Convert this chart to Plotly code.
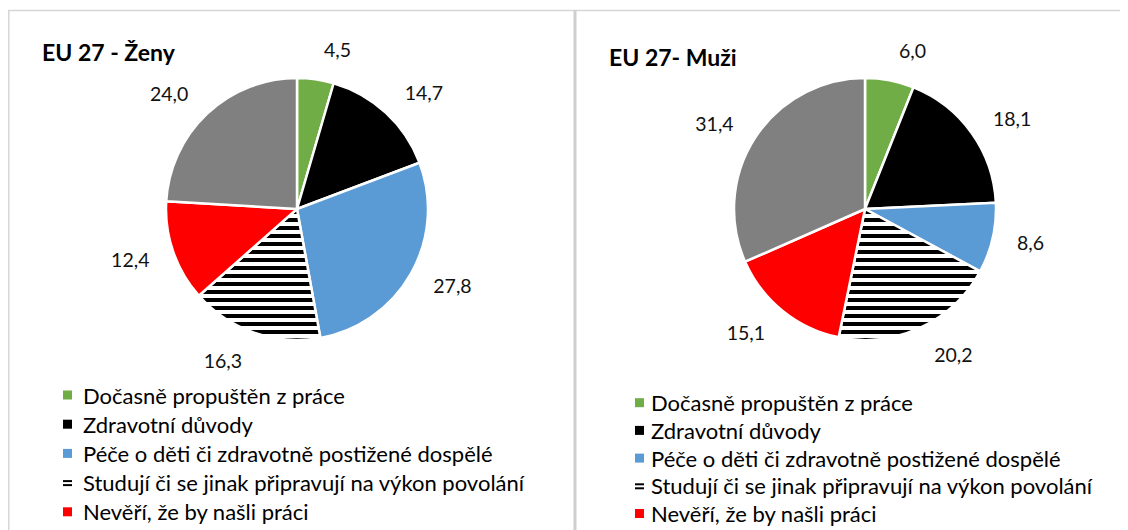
import plotly.graph_objects as go

# ---------------- data ----------------
categories = [
    "Dočasně propuštěn z práce",
    "Zdravotní důvody",
    "Péče o děti či zdravotně postižené dospělé",
    "Studují či se jinak připravují na výkon povolání",
    "Nevěří, že by našli práci",
    "Jiné důvody",
]
zeny_values = [4.5, 14.7, 27.8, 16.3, 12.4, 24.0]
muzi_values = [6.0, 18.1, 8.6, 20.2, 15.1, 31.4]
titles = ["EU 27 - Ženy", "EU 27- Muži"]
legend_visible_items = 5     # the picture is cut below the fifth legend row

# ---------------- styles ----------------
OFF = 8                      # page body margin
W, H = 1128 - OFF, 530 - OFF
slice_colors = ["#70AD47", "#000000", "#5B9BD5", "#FFFFFF", "#FF0000", "#808080"]
patterns = ["", "", "", "-", "", ""]
FONT = "Lato"


def px(x):
    return (x - OFF) / W


def py(y):
    return (H - (y - OFF)) / H


def domain(cx, cy, r):
    return dict(x=[px(cx - r), px(cx + r)], y=[py(cy + r), py(cy - r)])


fig = go.Figure()

panels = [
    dict(values=zeny_values, cx=297, cy=209, r=131),
    dict(values=muzi_values, cx=865, cy=209, r=131),
]

for p in panels:
    fig.add_trace(go.Pie(
        labels=categories, values=p["values"], sort=False, direction="clockwise",
        rotation=0, domain=domain(p["cx"], p["cy"], p["r"]),
        marker=dict(colors=slice_colors, line=dict(color="white", width=2.5),
                    pattern=dict(shape=patterns, fgcolor="black", bgcolor="white",
                                 size=8, solidity=0.5)),
        textinfo="none", showlegend=False, hoverinfo="label+value",
    ))
    # transparent twin pie, only to place the value labels a bit further out
    fig.add_trace(go.Pie(
        labels=categories, values=p["values"], sort=False, direction="clockwise",
        rotation=0, domain=domain(p["cx"], p["cy"], p["r"] + 19),
        marker=dict(colors=["rgba(0,0,0,0)"] * len(categories), line=dict(width=0)),
        texttemplate="%{value:.1f}", textposition="outside",
        textfont=dict(family=FONT, size=19.5, color="#111111"),
        showlegend=False, hoverinfo="skip",
    ))

annotations = []
shapes = []

# titles
annotations.append(dict(text="<b>" + titles[0] + "</b>", x=px(40), y=py(52), xref="paper",
                        yref="paper", xanchor="left", yanchor="middle", showarrow=False,
                        font=dict(family=FONT, size=23, color="#000000")))
annotations.append(dict(text="<b>" + titles[1] + "</b>", x=px(607), y=py(57), xref="paper",
                        yref="paper", xanchor="left", yanchor="middle", showarrow=False,
                        font=dict(family=FONT, size=23, color="#000000")))

# manual legends
legends = [
    dict(mx=63, tx=81, y0=395, dy=29.2),
    dict(mx=635, tx=649, y0=402.7, dy=27.7),
]
for lg in legends:
    for i, cat in enumerate(categories[:legend_visible_items]):
        yc = lg["y0"] + i * lg["dy"]
        annotations.append(dict(text=cat, x=px(lg["tx"]), y=py(yc), xref="paper", yref="paper",
                                xanchor="left", yanchor="middle", showarrow=False,
                                font=dict(family=FONT, size=22, color="#000000")))
        if patterns[i] == "-":
            for off in (-2.5, 1.5):
                shapes.append(dict(type="rect", xref="paper", yref="paper",
                                   x0=px(lg["mx"]), x1=px(lg["mx"] + 9),
                                   y0=py(yc + off + 2), y1=py(yc + off),
                                   fillcolor="black", line=dict(width=0)))
        else:
            shapes.append(dict(type="rect", xref="paper", yref="paper",
                               x0=px(lg["mx"]), x1=px(lg["mx"] + 9),
                               y0=py(yc + 4.5), y1=py(yc - 4.5),
                               fillcolor=slice_colors[i], line=dict(width=0)))

# panel borders
border = "#d6d6d6"
shapes.append(dict(type="line", xref="paper", yref="paper", x0=px(8), x1=px(1128),
                   y0=py(10.5), y1=py(10.5), line=dict(color=border, width=1.5)))
shapes.append(dict(type="line", xref="paper", yref="paper", x0=px(8.8), x1=px(8.8),
                   y0=py(10), y1=py(530), line=dict(color=border, width=1.5)))
shapes.append(dict(type="line", xref="paper", yref="paper", x0=px(575), x1=px(575),
                   y0=py(10), y1=py(530), line=dict(color="#cfcfcf", width=3)))

fig.update_layout(
    width=W, height=H, margin=dict(l=0, r=0, t=0, b=0),
    paper_bgcolor="white", plot_bgcolor="white",
    separators=", ", showlegend=False,
    annotations=annotations, shapes=shapes,
    font=dict(family=FONT, color="#000000"),
)

fig.write_html("out.html")
